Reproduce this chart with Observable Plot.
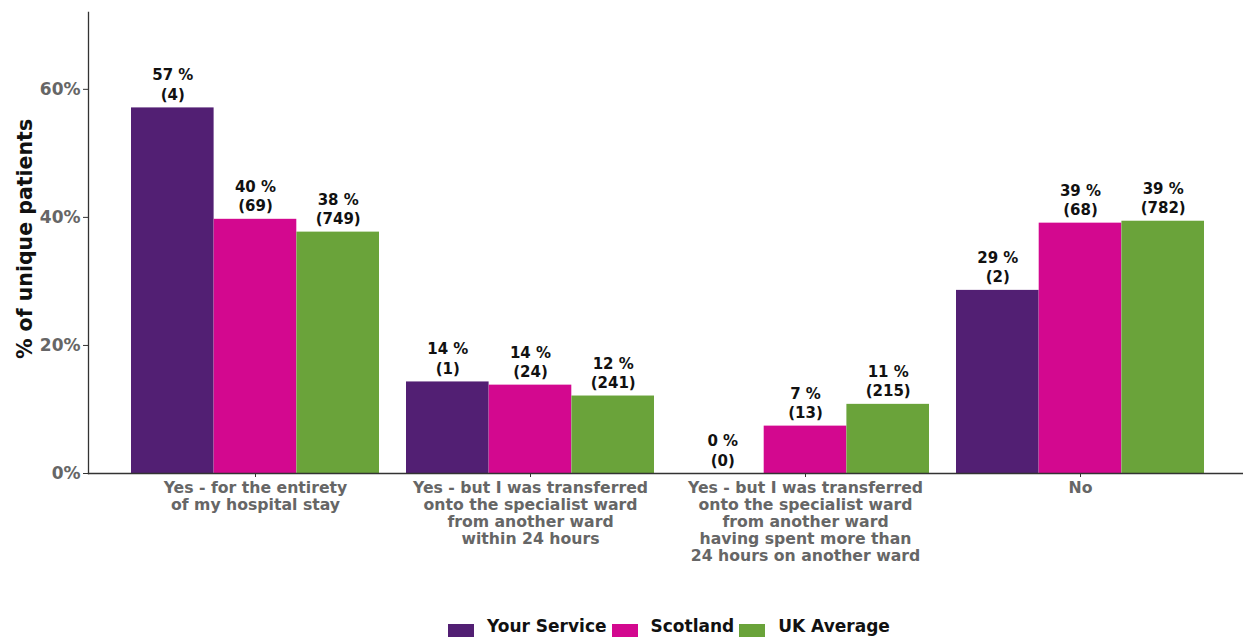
<!DOCTYPE html>
<html>
<head>
<meta charset="utf-8">
<script src="https://cdn.jsdelivr.net/npm/d3@7"></script>
<script src="https://cdn.jsdelivr.net/npm/@observablehq/plot@0.6"></script>
<style>
  html, body { margin: 0; padding: 0; background: #fff; }
  body { width: 1243px; height: 637px; overflow: hidden; font-family: "DejaVu Sans", sans-serif; }
  #chart svg { display: block; overflow: visible; }
  #legend { display: flex; align-items: flex-start; margin-left: 448px; margin-top: 18px; font-weight: bold; font-size: 17px; line-height: 17px; color: #111; }
  #legend .sw { width: 26px; height: 26px; margin-top: 6px; margin-right: 13px; }
  #legend .lab { margin-right: 5px; }
</style>
</head>
<body>
<div id="chart"></div>
<div id="legend"></div>
<script>
const categories = [
  "Yes - for the entirety\nof my hospital stay",
  "Yes - but I was transferred\nonto the specialist ward\nfrom another ward\nwithin 24 hours",
  "Yes - but I was transferred\nonto the specialist ward\nfrom another ward\nhaving spent more than\n24 hours on another ward",
  "No"
];
const seriesNames = ["Your Service", "Scotland", "UK Average"];
const seriesColors = ["#521f73", "#d3088f", "#6aa33a"];
const yourServicePct = [57.1, 14.3, 0, 28.6];
const scotlandPct = [39.7, 13.8, 7.4, 39.1];
const ukPct = [37.7, 12.1, 10.8, 39.4];
const yourServiceN = [4, 1, 0, 2];
const scotlandN = [69, 24, 13, 68];
const ukN = [749, 241, 215, 782];
const yTicks = [0, 20, 40, 60];
const yTitle = "% of unique patients";

const pctSeries = [yourServicePct, scotlandPct, ukPct];
const countSeries = [yourServiceN, scotlandN, ukN];
const rows = [];
seriesNames.forEach((s, j) => categories.forEach((c, i) => {
  rows.push({series: s, si: j, cat: c, value: pctSeries[j][i], n: countSeries[j][i]});
}));

const W = 1243, H = 600, mL = 88, mR = 0, mT = 12, mB = 127;
const pIn = 0.1, pOut = 0.145, align = 0.52;
const step = (W - mL - mR) / (categories.length - pIn + 2 * pOut);
const bw = step * (1 - pIn);
const third = bw / seriesNames.length;

const marks = [];
seriesNames.forEach((s, j) => {
  const d = rows.filter(r => r.si === j);
  marks.push(Plot.barY(d, {
    x: "cat", y: "value", fill: seriesColors[j],
    insetLeft: j * third, insetRight: (seriesNames.length - 1 - j) * third
  }));
  marks.push(Plot.text(d, {
    x: "cat", y: "value",
    text: r => `${Math.round(r.value)} %\n(${r.n})`,
    dx: (j - (seriesNames.length - 1) / 2) * third,
    dy: -8, lineAnchor: "bottom", lineHeight: 1.3,
    fontSize: 15, fill: "#111", fontWeight: "bold"
  }));
});

const chart = Plot.plot({
  width: W, height: H,
  marginLeft: mL, marginRight: mR, marginTop: mT, marginBottom: mB,
  style: {fontFamily: "DejaVu Sans, sans-serif", fontWeight: "bold", background: "#fff"},
  x: {domain: categories, paddingInner: pIn, paddingOuter: pOut, align: align, label: null},
  y: {domain: [0, 72], label: null},
  marks: [
    ...marks,
    Plot.frame({anchor: "left", stroke: "#333", strokeWidth: 1.3}),
    Plot.frame({anchor: "bottom", stroke: "#333", strokeWidth: 1.3}),
    Plot.axisY({ticks: yTicks, tickFormat: d => d + "%", tickSize: 5, tickPadding: 3,
      fontSize: 17, stroke: "#333", fill: "#666", label: null}),
    Plot.axisX({tickSize: 4, tickPadding: 4, fontSize: 15.7, lineHeight: 1.07,
      stroke: "#333", fill: "#666", label: null}),
    Plot.text([yTitle], {frameAnchor: "left", textAnchor: "middle", dx: -63, dy: -4, rotate: -90,
      fontSize: 20.5, fill: "#111", fontWeight: "bold"})
  ]
});
document.getElementById("chart").appendChild(chart);

const legend = document.getElementById("legend");
seriesNames.forEach((s, j) => {
  const sw = document.createElement("div");
  sw.className = "sw"; sw.style.background = seriesColors[j];
  const lab = document.createElement("div");
  lab.className = "lab"; lab.textContent = s;
  legend.appendChild(sw); legend.appendChild(lab);
});
</script>
</body>
</html>
